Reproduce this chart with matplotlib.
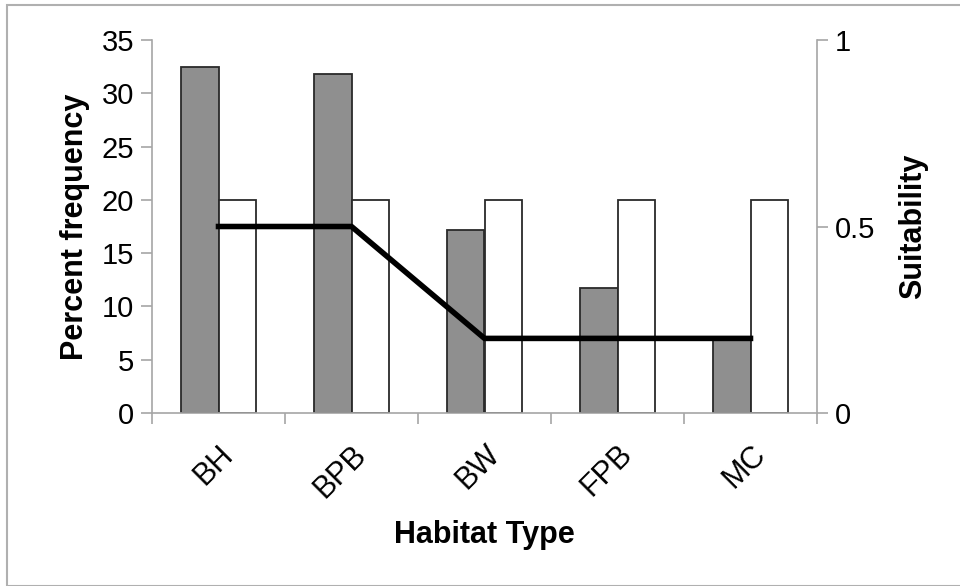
import numpy as np
import matplotlib.pyplot as plt
import matplotlib.transforms as mtransforms
from matplotlib.patches import Rectangle

plt.rcParams['font.family'] = ['Liberation Sans', 'DejaVu Sans']

habitats = ['BH', 'BPB', 'BW', 'FPB', 'MC']
pct_freq = [32.5, 31.8, 17.2, 11.7, 6.9]
ref_bars = [20, 20, 20, 20, 20]
suitability = [0.5, 0.5, 0.2, 0.2, 0.2]

axis_grey = '#a6a6a6'
bar_w = 0.285

fig = plt.figure(figsize=(9.6, 5.86), dpi=100)
fig.patches.append(Rectangle((7 / 960, 0.5 / 586), 1.0, 1 - 5.5 / 586,
                             transform=fig.transFigure, fill=False,
                             edgecolor='#b0b0b0', linewidth=1.5))

ax = fig.add_axes([152 / 960, 1 - 413 / 586, (817 - 152) / 960, (413 - 40) / 586])
x = np.arange(len(habitats))
ax.bar(x - bar_w / 2, pct_freq, width=bar_w, color='#8f8f8f', edgecolor='#2a2a2a',
       linewidth=1.3, zorder=2)
ax.bar(x + bar_w / 2, ref_bars, width=bar_w, color='white', edgecolor='#2a2a2a',
       linewidth=1.3, zorder=2)

ax.set_xlim(-0.5, len(habitats) - 0.5)
ax.set_ylim(0, 35)
ax.set_yticks(range(0, 36, 5))
ax.set_xticks(np.arange(-0.5, len(habitats), 1.0))
ax.set_xticklabels([])
ax.set_xticks(x, minor=True)
ax.set_xticklabels(habitats, minor=True, rotation=45, ha='right',
                   rotation_mode='anchor', fontsize=22)
# nudge the rotated labels a little to the left
shift = mtransforms.ScaledTranslation(-6 / 100, 0, fig.dpi_scale_trans)
for lab in ax.get_xticklabels(minor=True):
    lab.set_transform(lab.get_transform() + shift)
ax.tick_params(axis='x', which='minor', length=0, pad=19)
ax.tick_params(axis='x', which='major', length=8, color=axis_grey, width=1.2)
ax.tick_params(axis='y', length=8, color=axis_grey, width=1.2, labelsize=21, pad=5)

for s in ['top', 'right']:
    ax.spines[s].set_visible(False)
for s in ['left', 'bottom']:
    ax.spines[s].set_color(axis_grey)
    ax.spines[s].set_linewidth(1.2)

ax.set_xlabel('Habitat Type', fontsize=22, fontweight='bold', labelpad=12)
ax.set_ylabel('Percent frequency', fontsize=22, fontweight='bold', labelpad=8)

ax2 = ax.twinx()
ax2.plot(x, suitability, color='black', linewidth=4, zorder=3)
ax2.set_ylim(0, 1)
ax2.set_yticks([0, 0.5, 1])
ax2.set_yticklabels(['0', '0.5', '1'])
ax2.tick_params(axis='y', length=8, color=axis_grey, width=1.2, labelsize=21, pad=5)
for s in ['top', 'left', 'bottom']:
    ax2.spines[s].set_visible(False)
ax2.spines['right'].set_color(axis_grey)
ax2.spines['right'].set_linewidth(1.2)
ax2.set_ylabel('Suitability', fontsize=22, fontweight='bold', labelpad=16)

fig.savefig('out.png', dpi=100)
